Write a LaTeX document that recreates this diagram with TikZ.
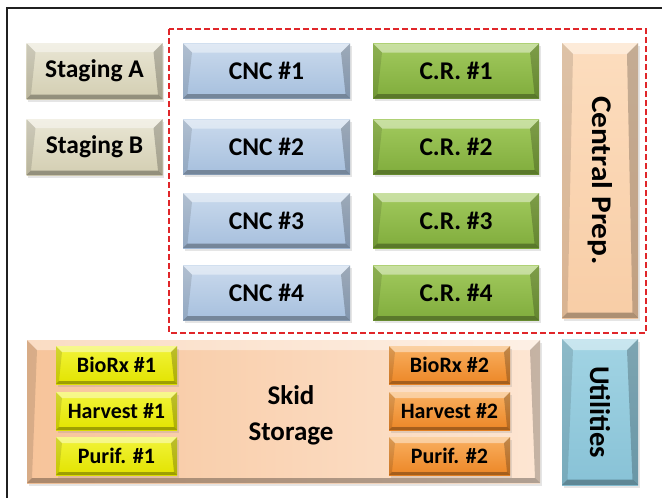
\documentclass[tikz,border=0pt]{standalone}
\usepackage{fontspec}
\setmainfont{Carlito}
\usetikzlibrary{calc,shadows}

% Bevelled boxes: a shaded face with four lit/shadowed edge bands
\tikzset{
  x=1pt, y=-1pt,
  bev/.store in=\bev, bev=9,
  bevelbox/.style={
    rectangle, inner sep=0pt, text=black,
    font=\bfseries\fontsize{25.5}{27}\selectfont,
    drop shadow={opacity=0.2, shadow xshift=1.5pt, shadow yshift=-2.5pt},
    path picture={
      \path (path picture bounding box.north west) coordinate (pNW)
            (path picture bounding box.north east) coordinate (pNE)
            (path picture bounding box.south west) coordinate (pSW)
            (path picture bounding box.south east) coordinate (pSE);
      \path ($(pNW)+(\bev,\bev)$) coordinate (iNW)
            ($(pNE)+(-\bev,\bev)$) coordinate (iNE)
            ($(pSW)+(0.5*\bev,-0.5*\bev)$) coordinate (iSW)
            ($(pSE)+(-0.5*\bev,-0.5*\bev)$) coordinate (iSE);
      \fill[white,opacity=0.42] (pNW)--(pNE)--(iNE)--(iNW)--cycle;
      \fill[black,opacity=0.12] (pNW)--(iNW)--(iSW)--(pSW)--cycle;
      \fill[black,opacity=0.22] (pNE)--(pSE)--(iSE)--(iNE)--cycle;
      \fill[black,opacity=0.30] (pSW)--(iSW)--(iSE)--(pSE)--cycle;
    }
  },
  staging/.style={bevelbox, minimum width=136, minimum height=56,
    top color=stgT, bottom color=stgB},
  cnc/.style={bevelbox, minimum width=167, minimum height=55,
    top color=cncT, bottom color=cncB},
  cr/.style={bevelbox, minimum width=166, minimum height=55,
    top color=crT, bottom color=crB},
  tallbox/.style={bevelbox, bev=11, minimum width=76,
    font=\bfseries\fontsize{28.5}{30}\selectfont},
  skidunit/.style={bevelbox, bev=6, minimum width=121, minimum height=38,
    font=\bfseries\fontsize{22}{24}\selectfont},
  yellowunit/.style={skidunit, top color=yelT, bottom color=yelB},
  orangeunit/.style={skidunit, top color=orgT, bottom color=orgB},
}

\definecolor{stgT}{HTML}{E9E6D4}
\definecolor{stgB}{HTML}{D3CEB2}
\definecolor{cncT}{HTML}{CADAED}
\definecolor{cncB}{HTML}{A6BFDD}
\definecolor{crT}{HTML}{A2CA5E}
\definecolor{crB}{HTML}{80AC3C}
\definecolor{prepT}{HTML}{FCDDBE}
\definecolor{prepB}{HTML}{F8CDA6}
\definecolor{skidL}{HTML}{F7C49A}
\definecolor{skidR}{HTML}{FDE6D3}
\definecolor{yelT}{HTML}{F2F43A}
\definecolor{yelB}{HTML}{E2E300}
\definecolor{orgT}{HTML}{F9B060}
\definecolor{orgB}{HTML}{EC8626}
\definecolor{utilT}{HTML}{A2D4E4}
\definecolor{utilB}{HTML}{88C2D6}
\definecolor{zone}{HTML}{E0262A}
\definecolor{frame}{HTML}{202020}

\begin{document}
\begin{tikzpicture}
\useasboundingbox (0,0) rectangle (662,498);
\fill[white] (0,0) rectangle (662,498);

% outer frame (left and top edges)
\draw[frame, line width=1.3pt] (7,498) -- (7,8) -- (662,8);

% central preparation zone
\draw[zone, line width=2pt, dash pattern=on 6pt off 3pt] (169,29) rectangle (646,333);

% staging rooms
\node[staging] (stgA) at (94.5,71)  {Staging A};
\node[staging] (stgB) at (94.5,147) {Staging B};

% CNC rooms
\node[cnc] (cnc1) at (266.5,71)    {CNC \#1};
\node[cnc] (cnc2) at (266.5,147)   {CNC \#2};
\node[cnc] (cnc3) at (266.5,220.5) {CNC \#3};
\node[cnc] (cnc4) at (266.5,293)   {CNC \#4};

% clean rooms
\node[cr] (cr1) at (456,71)    {C.R. \#1};
\node[cr] (cr2) at (456,147)   {C.R. \#2};
\node[cr] (cr3) at (456,220.5) {C.R. \#3};
\node[cr] (cr4) at (456,293)   {C.R. \#4};

% central prep column
\node[tallbox, minimum height=275, top color=prepT, bottom color=prepB]
  (prep) at (600,180.5) {\rotatebox{-90}{\scalebox{1.1}[1]{Central Prep.}}};

% skid storage area
\node[bevelbox, bev=10, minimum width=513, minimum height=143,
      left color=skidL, right color=skidR] (skid) at (283.5,411.5) {};
\node[font=\bfseries\fontsize{27}{36}\selectfont, align=center]
  (skidlabel) at (291,415) {Skid\\Storage};

% process skids
\node[yellowunit] (bio1) at (116.5,365) {BioRx \#1};
\node[yellowunit] (har1) at (116.5,411) {Harvest \#1};
\node[yellowunit] (pur1) at (116.5,456) {Purif. \#1};
\node[orangeunit] (bio2) at (449.5,365) {BioRx \#2};
\node[orangeunit] (har2) at (449.5,411) {Harvest \#2};
\node[orangeunit] (pur2) at (449.5,456) {Purif. \#2};

% utilities column
\node[tallbox, minimum height=146, top color=utilT, bottom color=utilB]
  (util) at (600,412) {\rotatebox{-90}{Utilities}};
\end{tikzpicture}
\end{document}
